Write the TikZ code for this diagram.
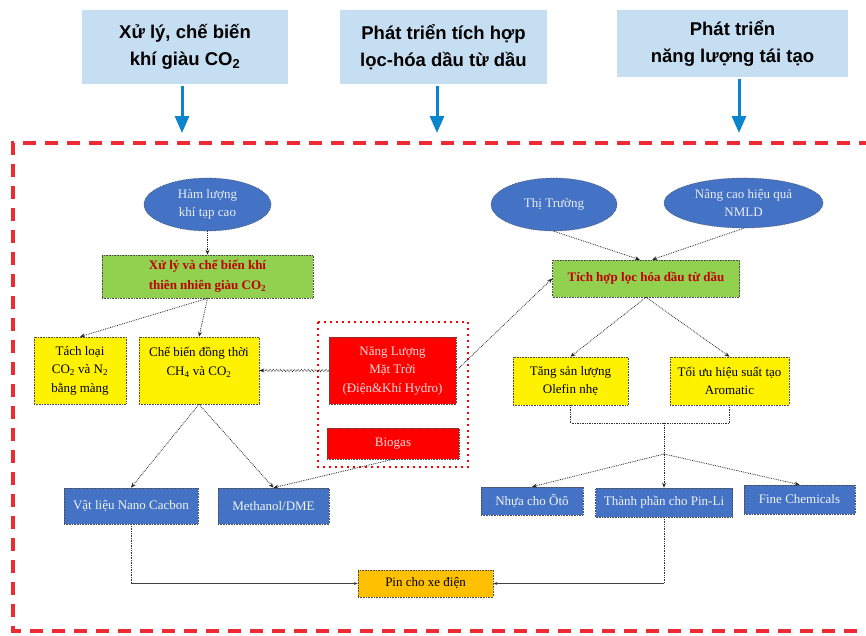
\documentclass[tikz,border=0pt]{standalone}
\usepackage{fontspec}
\setmainfont{Liberation Serif}
\newfontfamily\headfont{Liberation Sans}
\usetikzlibrary{arrows.meta,shapes.geometric,decorations.pathmorphing}
\definecolor{headbg}{HTML}{C6DEF1}
\definecolor{headarr}{HTML}{0A84CC}
\definecolor{framered}{HTML}{EE2A35}
\definecolor{ovalblue}{HTML}{4472C4}
\definecolor{leafgreen}{HTML}{92D050}
\definecolor{darkred}{HTML}{C00000}
\definecolor{pinorange}{HTML}{FFC000}
\tikzset{
  head/.style={fill=headbg,inner sep=0pt,align=center,
    font=\headfont\bfseries\fontsize{18.5}{27}\selectfont},
  headarrow/.style={headarr,line width=3pt,shorten <=2pt,
    -{Triangle[width=14pt,length=17pt]}},
  box/.style={draw=black!70,densely dotted,line width=0.6pt,inner sep=0pt,
    align=center,font=\fontsize{13}{18.5}\selectfont},
  oval/.style={box,ellipse,fill=ovalblue,text=white!88!ovalblue},
  greenbox/.style={box,fill=leafgreen,text=darkred,font=\bfseries\fontsize{13}{20}\selectfont},
  yellowbox/.style={box,fill=yellow},
  redbox/.style={box,fill=red,text=white!85!red},
  bluebox/.style={box,fill=ovalblue,text=white!92!ovalblue},
  link/.style={black!85,densely dotted,line width=0.8pt,-{Stealth[length=5pt,width=4pt]}},
  plain/.style={black!80,densely dotted,line width=0.7pt},
  wavy/.style={decorate,decoration={snake,amplitude=1.1pt,segment length=3.5pt,post length=5pt}}
}
\begin{document}
\begin{tikzpicture}[x=1pt,y=-1pt]
\useasboundingbox (0,0) rectangle (866,635);
\node[head,minimum width=206,minimum height=74] (h1) at (185,47) {Xử lý, chế biến\\khí giàu CO\textsubscript{2}};
\node[head,minimum width=207,minimum height=74] (h2) at (443.5,47) {Phát triển tích hợp\\lọc-hóa dầu từ dầu};
\node[head,minimum width=231,minimum height=67] (h3) at (732.5,43.5) {Phát triển\\năng lượng tái tạo};
\coordinate (t1) at (182,133);
\coordinate (t2) at (437,133);
\coordinate (t3) at (739,133);
\draw[headarrow] (h1.south -| t1) -- (t1);
\draw[headarrow] (h2.south -| t2) -- (t2);
\draw[headarrow] (h3.south -| t3) -- (t3);
\draw[framered,line width=4pt,dash pattern=on 13pt off 9pt] (872,143) -- (13,143) -- (13,631) -- (872,631);
\draw[red,line width=1.5pt,dash pattern=on 2pt off 4pt] (318,322) rectangle (468,467);

\node[oval,minimum width=127,minimum height=53] (e1) at (207.5,204.5) {Hàm lượng\\khí tạp cao};
\node[oval,minimum width=126,minimum height=53] (e2) at (554,204.5) {Thị Trường};
\node[oval,minimum width=159,minimum height=50] (e3) at (743.5,203) {Nâng cao hiệu quả\\NMLD};
\node[greenbox,minimum width=211,minimum height=43] (g1) at (207.5,276.5) {Xử lý và chế biến khí\\thiên nhiên giàu CO\textsubscript{2}};
\node[greenbox,minimum width=187,minimum height=37] (g2) at (646,278.5) {Tích hợp lọc hóa dầu từ dầu};
\node[yellowbox,minimum width=92,minimum height=67] (y1) at (80,370.5) {Tách loại\\CO\textsubscript{2} và N\textsubscript{2}\\bằng màng};
\node[yellowbox,minimum width=120,minimum height=67] (y2) at (199,370.5) {Chế biến đồng thời\\CH\textsubscript{4} và CO\textsubscript{2}\\\mbox{}};
\node[redbox,minimum width=127,minimum height=67] (r1) at (392.5,370.5) {Năng Lượng\\Mặt Trời\\(Điện\&Khí Hydro)};
\node[redbox,minimum width=132,minimum height=31] (r2) at (393,443.5) {Biogas};
\node[yellowbox,minimum width=115,minimum height=48] (y3) at (570.5,381) {Tăng sản lượng\\Olefin nhẹ};
\node[yellowbox,minimum width=119,minimum height=48] (y4) at (729.5,381) {Tối ưu hiệu suất tạo\\Aromatic};
\node[bluebox,minimum width=134,minimum height=36] (b1) at (131,506) {Vật liệu Nano Cacbon};
\node[bluebox,minimum width=111,minimum height=36] (b2) at (273.5,506) {Methanol/DME};
\node[bluebox,minimum width=102,minimum height=28] (b3) at (532,501) {Nhựa cho Ôtô};
\node[bluebox,minimum width=137,minimum height=29] (b4) at (664,502.5) {Thành phần cho Pin-Li};
\node[bluebox,minimum width=111,minimum height=29] (b5) at (799.5,499.5) {Fine Chemicals};
\node[box,fill=pinorange,minimum width=135,minimum height=27] (o1) at (425.5,583.5) {Pin cho xe điện};

\draw[link] (e1.south) -- (g1.north);
\draw[link] (g1.south) -- (y1.north);
\draw[link] (g1.south) -- (y2.north);
\draw[link] (y2.south) -- (b1.north);
\draw[link] (y2.south) -- (b2.north);
\draw[link,wavy] (r1.west) -- (y2.east);
\draw[link] (r2.south) -- (b2.north);
\draw[link] (r1.east) -- (g2.west);
\draw[link] (e2.south) -- (g2.108);
\draw[link] (e3.south) -- (g2.72);
\draw[link] (g2.south) -- (y3.north);
\draw[link] (g2.south) -- (y4.north);
\coordinate (k1) at (664,423);
\coordinate (k2) at (664,454);
\draw[plain] (y3.south) |- (k1) -| (y4.south);
\draw[link] (k1) -- (b4.north);
\draw[link] (k2) -- (b3.north);
\draw[link] (k2) -- (b5.north);
\coordinate (c1) at (b1.south |- o1.west);
\coordinate (c2) at (b4.south |- o1.east);
\draw[plain] (b1.south) -- (c1);
\draw[plain] (b4.south) -- (c2);
\draw[black!75,line width=0.9pt,-{Stealth[length=4pt,width=3pt]}] (c1) -- (o1.west);
\draw[black!75,line width=0.9pt,-{Stealth[length=4pt,width=3pt]}] (c2) -- (o1.east);
\end{tikzpicture}
\end{document}
